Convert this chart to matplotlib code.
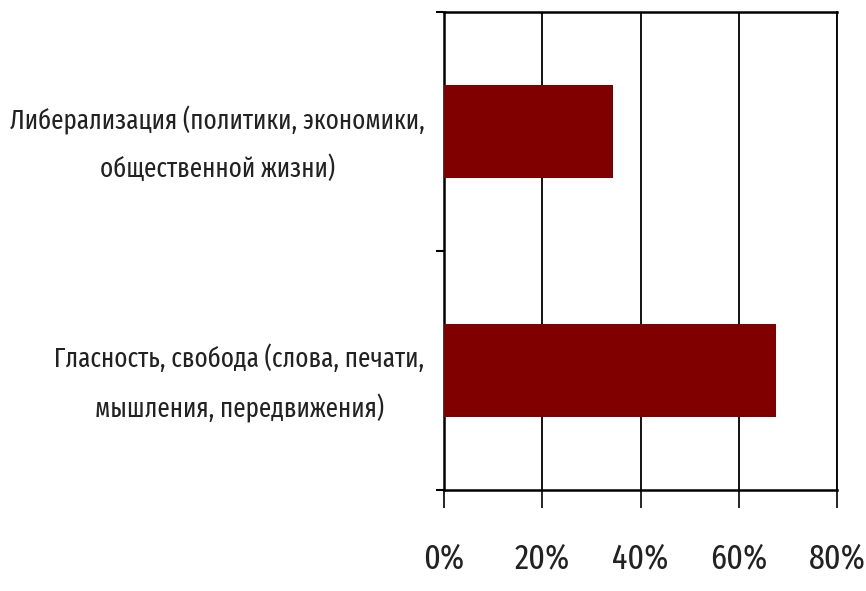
import matplotlib.pyplot as plt
import numpy as np

# categories (top to bottom) and shares
categories = ['Либерализация (политики, экономики,\nобщественной жизни)',
              'Гласность, свобода (слова, печати,\nмышления, передвижения)']
values = [0.344, 0.676]
xticks = [0, 0.2, 0.4, 0.6, 0.8]
xtick_labels = ['0%', '20%', '40%', '60%', '80%']

plt.rcParams['font.family'] = ['Fira Sans Extra Condensed', 'PT Sans Narrow', 'DejaVu Sans']

fig = plt.figure(figsize=(8.66, 5.91), dpi=100)
ax = fig.add_axes([444 / 866, 1 - 490 / 591, (837 - 444) / 866, (490 - 12) / 591])

y = np.arange(len(categories))
ax.barh(y, values, height=0.39, color='#800000', zorder=3)

ax.set_xlim(0, 0.8)
ax.set_ylim(len(categories) - 0.5, -0.5)

ax.set_xticks(xticks)
ax.set_xticklabels(xtick_labels, fontsize=25, color='#222222')
ax.tick_params(axis='x', length=13, width=1.2, pad=24, color='black')
ax.xaxis.grid(True, color='black', linewidth=1.3, zorder=1)

ax.set_yticks(y)
ax.set_yticklabels(categories, fontsize=19.5, color='#222222', multialignment='center',
                   linespacing=1.9)
ax.tick_params(axis='y', which='major', length=0, pad=14)
ax.set_yticks(np.arange(-0.5, len(categories), 1.0), minor=True)
ax.tick_params(axis='y', which='minor', length=6, width=1.5, color='black')

for s in ['left', 'bottom', 'top']:
    ax.spines[s].set_linewidth(1.8)
    ax.spines[s].set_color('black')
ax.spines['right'].set_linewidth(1.3)

fig.savefig('out.png', dpi=100)
